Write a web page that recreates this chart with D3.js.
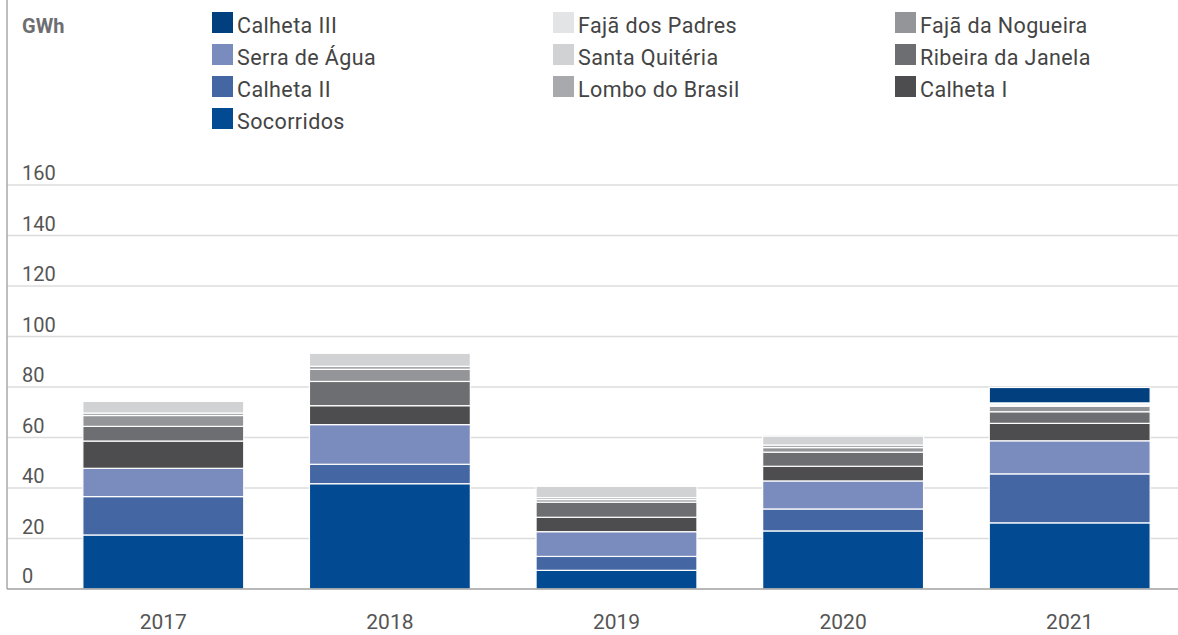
<!DOCTYPE html>
<html>
<head>
<meta charset="utf-8">
<script src="https://cdn.jsdelivr.net/npm/d3@7"></script>
<style>
  body { margin: 0; background: #fff; }
  svg { display: block; font-family: Roboto, "Open Sans", sans-serif; }
</style>
</head>
<body>
<div id="chart"></div>
<script>
const years = ['2017', '2018', '2019', '2020', '2021'];

// stacking order, bottom to top
const seriesNames = ['Socorridos', 'Calheta II', 'Serra de Água', 'Calheta I', 'Ribeira da Janela',
  'Fajã da Nogueira', 'Lombo do Brasil', 'Santa Quitéria', 'Fajã dos Padres', 'Calheta III'];

const socorridos = [21.4, 41.7, 7.4, 23.0, 26.2];
const calhetaII = [15.2, 7.7, 5.5, 8.7, 19.4];
const serraAgua = [11.2, 15.7, 9.8, 11.1, 13.1];
const calhetaI = [10.8, 7.5, 5.7, 5.8, 6.9];
const ribeiraJanela = [5.8, 9.6, 6.0, 5.6, 4.6];
const fajaNogueira = [4.3, 4.8, 1.0, 1.8, 2.2];
const lomboBrasil = [1.0, 1.2, 0.8, 1.0, 0.4];
const santaQuiteria = [4.6, 5.2, 4.5, 3.6, 0.6];
const fajaPadres = [0.4, 0.2, 0.4, 0.6, 0.3];
const calhetaIII = [0, 0, 0, 0, 6.1];

const seriesValues = [socorridos, calhetaII, serraAgua, calhetaI, ribeiraJanela,
  fajaNogueira, lomboBrasil, santaQuiteria, fajaPadres, calhetaIII];

const colors = ['#024a91', '#4466a3', '#7a8bbd', '#4d4d4f', '#6d6e71',
  '#939598', '#a8a9ac', '#d1d2d4', '#e3e4e6', '#023f7e'];

const yTicks = [0, 20, 40, 60, 80, 100, 120, 140, 160];

// legend laid out in three columns, as in the original
const legendColumns = [
  ['Calheta III', 'Serra de Água', 'Calheta II', 'Socorridos'],
  ['Fajã dos Padres', 'Santa Quitéria', 'Lombo do Brasil'],
  ['Fajã da Nogueira', 'Ribeira da Janela', 'Calheta I']
];

const W = 1178, H = 635;
const axisX = 7;

const table = years.map((yr, i) => {
  const row = { year: yr };
  seriesNames.forEach((s, j) => { row[s] = seriesValues[j][i]; });
  return row;
});

const stacked = d3.stack().keys(seriesNames)(table);
const color = d3.scaleOrdinal().domain(seriesNames).range(colors);

const svg = d3.select('#chart').append('svg')
  .attr('width', W)
  .attr('height', H);

const x = d3.scaleBand()
  .domain(years)
  .range([50, 1183])
  .paddingInner(0.29)
  .paddingOuter(0.145);

const y = d3.scaleLinear()
  .domain([0, 160])
  .range([589, 185]);

// gridlines
svg.append('g')
  .selectAll('line')
  .data(yTicks.filter(d => d > 0))
  .enter()
  .append('line')
  .attr('x1', axisX)
  .attr('x2', W)
  .attr('y1', d => y(d))
  .attr('y2', d => y(d))
  .attr('stroke', '#dcdcdc')
  .attr('stroke-width', 1.5);

// y tick labels, sitting above the gridlines
svg.append('g')
  .selectAll('text')
  .data(yTicks)
  .enter()
  .append('text')
  .attr('x', 22)
  .attr('y', d => y(d) - (d === 0 ? 6 : 5))
  .attr('fill', '#555')
  .style('font-size', '20px')
  .text(d => d);

// bars
svg.append('g')
  .selectAll('g')
  .data(stacked)
  .enter()
  .append('g')
  .attr('fill', d => color(d.key))
  .selectAll('rect')
  .data(d => d.filter(p => p[1] - p[0] > 0))
  .enter()
  .append('rect')
  .attr('x', d => x(d.data.year))
  .attr('width', x.bandwidth())
  .attr('y', d => y(d[1]))
  .attr('height', d => y(d[0]) - y(d[1]))
  .attr('stroke', '#fff')
  .attr('stroke-width', 1.2);

// axes lines
svg.append('line')
  .attr('x1', axisX).attr('x2', axisX)
  .attr('y1', 0).attr('y2', y(0))
  .attr('stroke', '#a8a8a8')
  .attr('stroke-width', 1.5);

svg.append('line')
  .attr('x1', axisX).attr('x2', W)
  .attr('y1', y(0)).attr('y2', y(0))
  .attr('stroke', '#a0a0a0')
  .attr('stroke-width', 1.5);

// x labels
svg.append('g')
  .selectAll('text')
  .data(years)
  .enter()
  .append('text')
  .attr('x', d => x(d) + x.bandwidth() / 2)
  .attr('y', 629)
  .attr('text-anchor', 'middle')
  .attr('fill', '#555')
  .style('font-size', '21px')
  .text(d => d);

// unit label
svg.append('text')
  .attr('x', 22)
  .attr('y', 33)
  .attr('fill', '#6d6e71')
  .style('font-size', '20px')
  .style('font-weight', 700)
  .text('GWh');

// legend
const colX = [212, 553, 895];
legendColumns.forEach((col, ci) => {
  const g = svg.append('g').attr('transform', `translate(${colX[ci]},12)`);
  const item = g.selectAll('g')
    .data(col)
    .enter()
    .append('g')
    .attr('transform', (d, i) => `translate(0,${i * 32})`);
  item.append('rect')
    .attr('width', 21)
    .attr('height', 21)
    .attr('fill', d => color(d));
  item.append('text')
    .attr('x', 25)
    .attr('y', 21)
    .attr('fill', '#444')
    .style('font-size', '21.5px')
    .style('letter-spacing', '0.4px')
    .text(d => d);
});
</script>
</body>
</html>
